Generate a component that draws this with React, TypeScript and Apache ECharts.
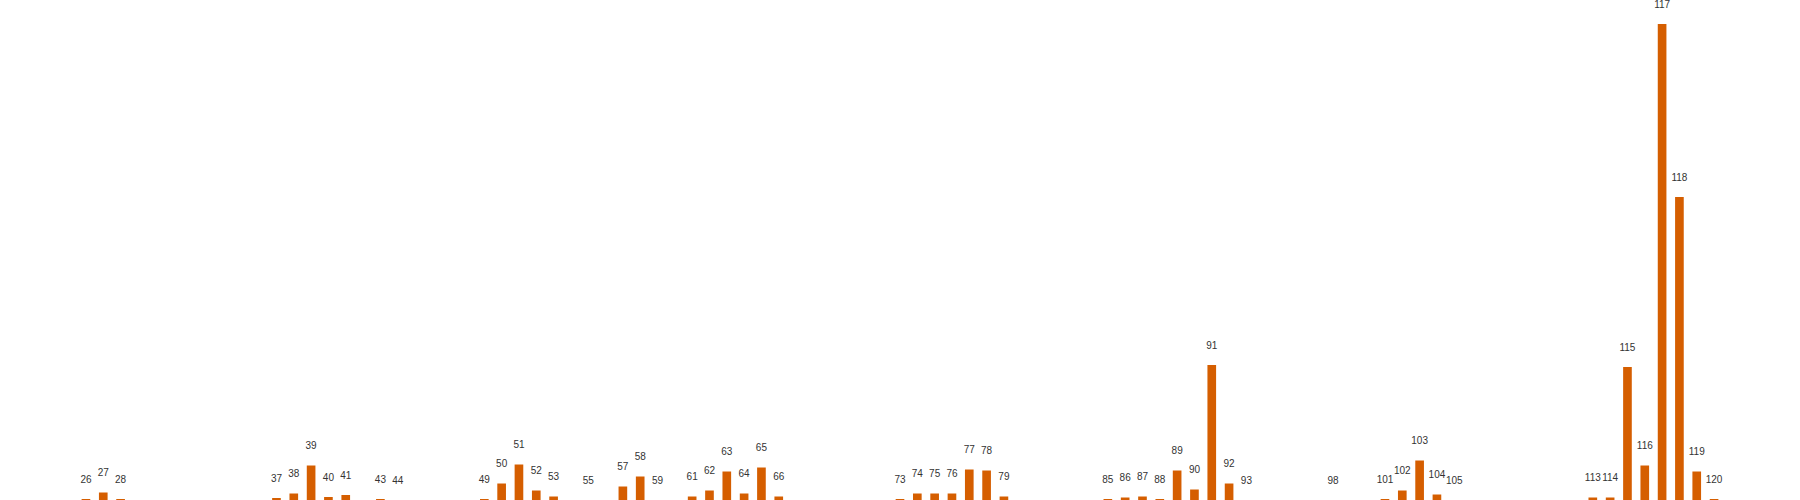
import React, { useEffect, useRef } from "react";
import * as echarts from "echarts";

// x-axis categories (22 … 124)
const categories: string[] = [
  "22","23","24","25","26","27","28","29","30","31","32","33","34","35","36","37","38","39","40","41",
  "42","43","44","45","46","47","48","49","50","51","52","53","54","55","56","57","58","59","60","61",
  "62","63","64","65","66","67","68","69","70","71","72","73","74","75","76","77","78","79","80","81",
  "82","83","84","85","86","87","88","89","90","91","92","93","94","95","96","97","98","99","100","101",
  "102","103","104","105","106","107","108","109","110","111","112","113","114","115","116","117","118","119","120","121",
  "122","123","124",
];

// categories that carry a bar, and their values
const barCategories: string[] = [
  "26","27","28","37","38","39","40","41","43","44",
  "49","50","51","52","53","55","57","58","59","61","62","63","64","65","66",
  "73","74","75","76","77","78","79","85","86","87","88","89","90","91","92","93",
  "98","101","102","103","104","105","113","114","115","116","117","118","119","120",
];
const barValues: number[] = [
  0.2, 1.5, 0.2, 0.4, 1.3, 6.9, 0.6, 1.0, 0.2, 0,
  0.2, 3.3, 7.1, 1.9, 0.7, 0, 2.7, 4.7, 0, 0.7, 1.9, 5.7, 1.3, 6.5, 0.7,
  0.2, 1.3, 1.3, 1.3, 6.1, 5.9, 0.7, 0.2, 0.5, 0.7, 0.2, 5.9, 2.1, 27.0, 3.3, 0,
  0, 0.2, 1.9, 7.9, 1.1, 0, 0.5, 0.5, 26.6, 6.9, 95.2, 60.6, 5.7, 0.2,
];

export default function App() {
  const ref = useRef<HTMLDivElement>(null);
  useEffect(() => {
    if (!ref.current) return;
    const chart = echarts.init(ref.current, null, { renderer: "svg" });
    const lookup = new Map<string, number>();
    barCategories.forEach((c, i) => lookup.set(c, barValues[i]));
    const data = categories.map((c) => (lookup.has(c) ? lookup.get(c)! : null));
    chart.setOption({
      animation: false,
      grid: { left: 8, right: 8, top: 0, bottom: 0, containLabel: false },
      xAxis: {
        type: "category",
        data: categories,
        show: false,
      },
      yAxis: { type: "value", min: 0, max: 100, show: false },
      series: [
        {
          type: "bar",
          data,
          barWidth: "50%",
          itemStyle: { color: "#D55E00" },
          label: {
            show: true,
            position: "top",
            distance: 15,
            formatter: "{b}",
            fontSize: 10,
            color: "#333",
            fontFamily: "Liberation Sans, Arial, sans-serif",
          },
        },
      ],
    });
    return () => chart.dispose();
  }, []);
  return (
    <div
      ref={ref}
      style={{ position: "absolute", left: 0, top: 0, width: 1800, height: 500, background: "#fff" }}
    />
  );
}
